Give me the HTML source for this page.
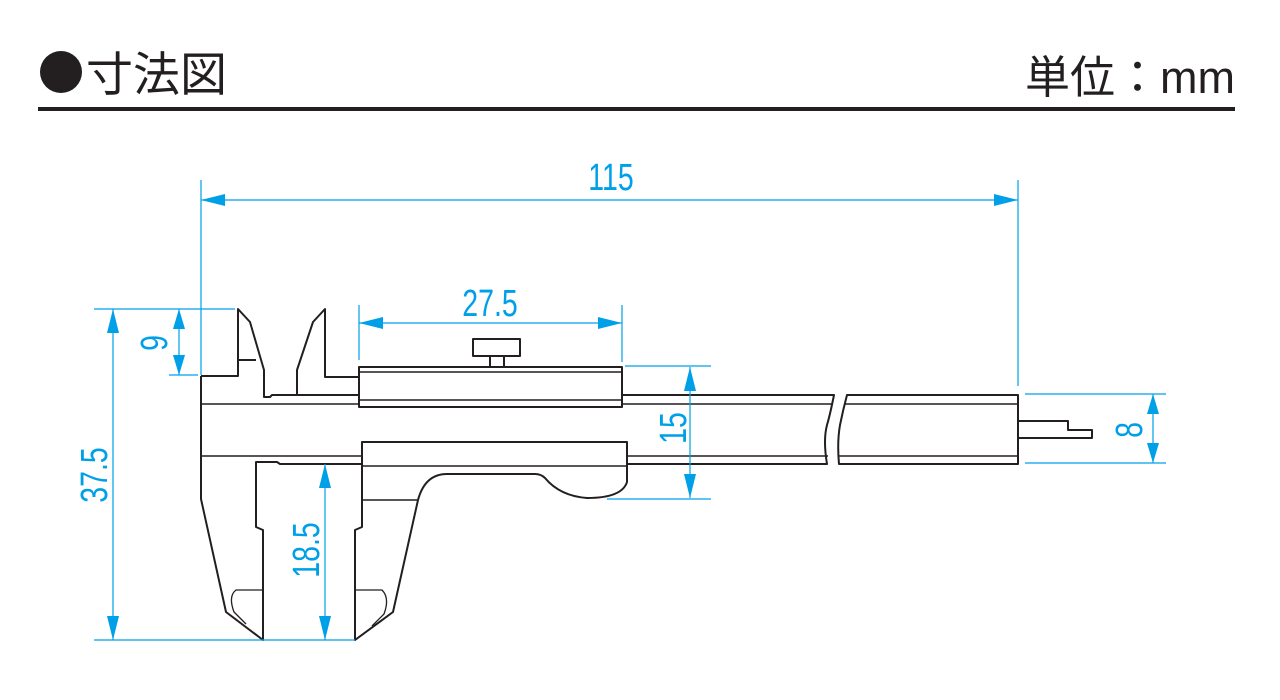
<!DOCTYPE html>
<html><head><meta charset="utf-8"><style>
html,body{margin:0;padding:0;background:#fff;width:1280px;height:700px;overflow:hidden}
</style></head><body>
<svg width="1280" height="700" viewBox="0 0 1280 700" xmlns="http://www.w3.org/2000/svg">
<circle cx="61" cy="72" r="21" fill="#231f20"/>
<text x="86" y="91" font-family="Noto Sans CJK JP, sans-serif" font-size="47" fill="#231f20">寸法図</text>
<text x="1235" y="93" text-anchor="end" font-family="Liberation Sans, Noto Sans CJK JP, sans-serif" font-size="45" fill="#231f20">単位：mm</text>
<rect x="38" y="107" width="1197" height="4" fill="#231f20"/>

<g fill="none" stroke="#231f20" stroke-width="2" stroke-linejoin="round">
<path d="M201,376 H238 V309 L250,322 L264,370 V397 H270 L272,395 H359"/>
<path d="M238,360 H256"/>
<path d="M201,376 V499 L226,612 L263,640 V530 L256,527 V462 H277 L280,464 H362"/>
<path d="M201,404 H359" stroke-width="1.5"/>
<path d="M201,456 H362" stroke-width="1.5"/>
<path d="M297,395 V370 L313,322 L325,309 V377 H359"/>
<rect x="359" y="367" width="263" height="40"/>
<path d="M359,372 H622 M359,400 H622" stroke-width="1.5"/>
<rect x="473" y="339" width="47" height="17"/>
<path d="M490,356 V367 M504,356 V367"/>
<path d="M362,442 H627 V482 Q622,498 587,498 Q560,496 545,478 Q541,474 535,474 H447 Q425,474 418,500 L393,612 L355,640 V530 L362,527 Z"/>
<path d="M362,466 H627 M362,500 H418" stroke-width="1.5"/>
<path d="M263,590 H236 Q228,596 234,612 L246,624" stroke-width="1.3"/>
<path d="M355,590 H382 Q390,598 384,614 L372,626" stroke-width="1.3"/>
<path d="M622,395 H834 Q830,415 827,425 Q823,440 827,464 H627"/>
<path d="M622,404 H832 M627,456 H828" stroke-width="1.5"/>
<path d="M1018,395 H847 Q843,410 840,425 Q837,442 839,464 H1018 Z"/>
<path d="M845,404 H1018 M839,456 H1018" stroke-width="1.5"/>
<path d="M1018,421 H1068 V430 H1092 V438 H1018"/>
</g>

<g stroke="#00a0e9" stroke-width="1.2" fill="none">
<path d="M201,180 V375 M1018,180 V386 M201,200 H1018"/>
<path d="M359,305 V360 M622,305 V362 M359,323 H622"/>
<path d="M94,309 H235 M169,375 H198 M94,640 H355 M113,309 V640 M179,309 V375"/>
<path d="M325,464 V640"/>
<path d="M625,366 H711 M607,499 H711 M690,367 V498"/>
<path d="M1025,394 H1166 M1025,463 H1166 M1153,394 V463"/>
</g>
<g fill="#00a0e9">
<path d="M201,200 l24,-6 v12 z M1018,200 l-24,-6 v12 z"/>
<path d="M359,323 l24,-6 v12 z M622,323 l-24,-6 v12 z"/>
<path d="M113,309 l-6,24 h12 z M113,640 l-6,-24 h12 z"/>
<path d="M179,309 l-6,20 h12 z M179,375 l-6,-20 h12 z"/>
<path d="M325,464 l-6,24 h12 z M325,640 l-6,-24 h12 z"/>
<path d="M690,367 l-6,24 h12 z M690,498 l-6,-24 h12 z"/>
<path d="M1153,394 l-6,20 h12 z M1153,463 l-6,-20 h12 z"/>
</g>
<g font-family="Liberation Sans, sans-serif" font-size="38" fill="#00a0e9" text-anchor="middle">
<text transform="translate(611,190) scale(0.75,1)">115</text>
<text transform="translate(490,316) scale(0.75,1)">27.5</text>
<text transform="translate(167,343) rotate(-90) scale(0.75,1)">9</text>
<text transform="translate(107,475) rotate(-90) scale(0.75,1)">37.5</text>
<text transform="translate(319,550) rotate(-90) scale(0.75,1)">18.5</text>
<text transform="translate(686,428) rotate(-90) scale(0.75,1)">15</text>
<text transform="translate(1142,430) rotate(-90) scale(0.75,1)">8</text>
</g>
</svg>
</body></html>
